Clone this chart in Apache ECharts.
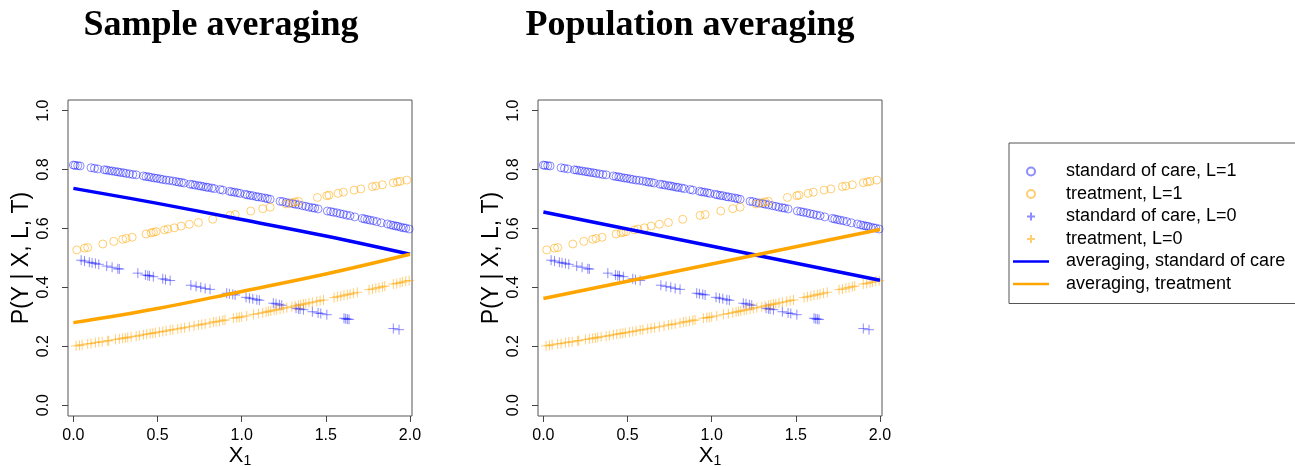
<!DOCTYPE html>
<html>
<head>
<meta charset="utf-8">
<script src="https://cdn.jsdelivr.net/npm/echarts@6/dist/echarts.min.js"></script>
<style>
  html, body { margin: 0; padding: 0; background: #ffffff; }
  #chart { width: 1295px; height: 466px; }
</style>
</head>
<body>
<div id="chart"></div>
<script>
// Panel titles and axis ticks
const panelTitles = ['Sample averaging', 'Population averaging'];
const xTicks = [0, 0.5, 1, 1.5, 2];
const yTicks = [0, 0.2, 0.4, 0.6, 0.8, 1.0];

// Individual predictions: standard of care, L=1
const socL1X = [0.0, 0.01, 0.026, 0.04, 0.105, 0.125, 0.145, 0.184, 0.198, 0.214, 0.23, 0.248, 0.264, 0.279, 0.297, 0.313, 0.333, 0.353, 0.373, 0.416, 0.432, 0.448, 0.463, 0.481, 0.497, 0.515, 0.531, 0.551, 0.57, 0.591, 0.61, 0.626, 0.642, 0.658, 0.693, 0.709, 0.723, 0.743, 0.757, 0.772, 0.789, 0.802, 0.822, 0.838, 0.872, 0.888, 0.927, 0.941, 0.957, 0.974, 0.99, 1.02, 1.034, 1.05, 1.066, 1.086, 1.099, 1.119, 1.139, 1.153, 1.169, 1.228, 1.244, 1.264, 1.283, 1.304, 1.319, 1.339, 1.361, 1.381, 1.4, 1.42, 1.434, 1.454, 1.509, 1.529, 1.545, 1.565, 1.585, 1.604, 1.624, 1.644, 1.672, 1.717, 1.731, 1.747, 1.763, 1.782, 1.803, 1.83, 1.866, 1.886, 1.901, 1.916, 1.929, 1.945, 1.961, 1.975, 1.995];
const socL1Y = [0.815, 0.814, 0.813, 0.812, 0.806, 0.804, 0.802, 0.799, 0.798, 0.796, 0.795, 0.793, 0.792, 0.790, 0.789, 0.787, 0.785, 0.783, 0.782, 0.778, 0.776, 0.775, 0.773, 0.771, 0.770, 0.768, 0.766, 0.764, 0.763, 0.761, 0.759, 0.757, 0.756, 0.754, 0.750, 0.749, 0.747, 0.745, 0.744, 0.742, 0.740, 0.739, 0.737, 0.735, 0.732, 0.730, 0.726, 0.724, 0.723, 0.721, 0.719, 0.716, 0.714, 0.712, 0.711, 0.708, 0.707, 0.705, 0.703, 0.701, 0.699, 0.692, 0.691, 0.688, 0.686, 0.684, 0.682, 0.680, 0.677, 0.675, 0.672, 0.670, 0.669, 0.666, 0.659, 0.657, 0.655, 0.653, 0.650, 0.648, 0.645, 0.643, 0.639, 0.634, 0.632, 0.630, 0.628, 0.626, 0.623, 0.619, 0.615, 0.612, 0.610, 0.608, 0.607, 0.604, 0.602, 0.601, 0.598];

// Individual predictions: treatment, L=1
const trtL1X = [0.02, 0.066, 0.085, 0.175, 0.24, 0.293, 0.313, 0.349, 0.432, 0.462, 0.476, 0.491, 0.541, 0.561, 0.6, 0.64, 0.689, 0.743, 0.828, 0.931, 0.961, 1.054, 1.125, 1.169, 1.264, 1.298, 1.317, 1.337, 1.45, 1.506, 1.519, 1.573, 1.604, 1.668, 1.708, 1.777, 1.797, 1.836, 1.901, 1.925, 1.941, 1.981];
const trtL1Y = [0.527, 0.533, 0.535, 0.547, 0.556, 0.563, 0.566, 0.570, 0.581, 0.585, 0.587, 0.589, 0.595, 0.598, 0.602, 0.608, 0.614, 0.620, 0.631, 0.644, 0.647, 0.659, 0.667, 0.672, 0.683, 0.687, 0.690, 0.692, 0.705, 0.711, 0.713, 0.719, 0.723, 0.730, 0.734, 0.742, 0.744, 0.748, 0.755, 0.758, 0.760, 0.764];

// Individual predictions: standard of care, L=0
const socL0X = [0.046, 0.066, 0.095, 0.111, 0.131, 0.151, 0.198, 0.23, 0.264, 0.273, 0.383, 0.428, 0.442, 0.452, 0.475, 0.531, 0.547, 0.575, 0.698, 0.729, 0.757, 0.783, 0.812, 0.911, 0.927, 0.947, 0.961, 1.026, 1.046, 1.066, 1.09, 1.105, 1.188, 1.204, 1.224, 1.238, 1.323, 1.337, 1.347, 1.367, 1.42, 1.454, 1.47, 1.506, 1.608, 1.618, 1.628, 1.638, 1.901, 1.935];
const socL0Y = [0.492, 0.489, 0.485, 0.483, 0.481, 0.478, 0.472, 0.468, 0.463, 0.462, 0.448, 0.442, 0.440, 0.439, 0.436, 0.429, 0.426, 0.423, 0.407, 0.403, 0.400, 0.396, 0.393, 0.380, 0.378, 0.376, 0.374, 0.366, 0.363, 0.361, 0.358, 0.356, 0.346, 0.344, 0.341, 0.339, 0.329, 0.327, 0.326, 0.324, 0.317, 0.313, 0.311, 0.307, 0.295, 0.293, 0.292, 0.291, 0.260, 0.256];

// Individual predictions: treatment, L=0
const trtL0X = [0.016, 0.036, 0.052, 0.085, 0.105, 0.131, 0.151, 0.171, 0.204, 0.21, 0.25, 0.273, 0.293, 0.309, 0.323, 0.343, 0.373, 0.392, 0.416, 0.436, 0.456, 0.472, 0.487, 0.511, 0.531, 0.551, 0.575, 0.591, 0.62, 0.64, 0.66, 0.689, 0.717, 0.743, 0.763, 0.783, 0.812, 0.832, 0.848, 0.868, 0.888, 0.901, 0.951, 0.971, 0.986, 1.0, 1.03, 1.07, 1.099, 1.125, 1.145, 1.159, 1.173, 1.193, 1.208, 1.228, 1.248, 1.268, 1.298, 1.317, 1.337, 1.351, 1.367, 1.381, 1.4, 1.42, 1.446, 1.466, 1.486, 1.549, 1.569, 1.589, 1.608, 1.628, 1.644, 1.664, 1.687, 1.757, 1.777, 1.797, 1.816, 1.836, 1.85, 1.901, 1.921, 1.941, 1.955, 1.975, 1.995];
const trtL0Y = [0.201, 0.203, 0.205, 0.208, 0.209, 0.212, 0.214, 0.215, 0.218, 0.219, 0.223, 0.225, 0.227, 0.228, 0.230, 0.232, 0.234, 0.236, 0.239, 0.241, 0.243, 0.244, 0.246, 0.248, 0.250, 0.252, 0.255, 0.256, 0.259, 0.261, 0.263, 0.266, 0.269, 0.272, 0.274, 0.276, 0.279, 0.282, 0.283, 0.285, 0.288, 0.289, 0.295, 0.297, 0.298, 0.300, 0.303, 0.308, 0.311, 0.314, 0.316, 0.318, 0.320, 0.322, 0.324, 0.326, 0.329, 0.331, 0.334, 0.337, 0.339, 0.341, 0.343, 0.344, 0.347, 0.349, 0.352, 0.355, 0.357, 0.365, 0.368, 0.370, 0.373, 0.375, 0.377, 0.380, 0.383, 0.392, 0.394, 0.397, 0.399, 0.402, 0.404, 0.411, 0.413, 0.416, 0.418, 0.421, 0.423];

// Averaged curves
const sampleAvgX = [0, 0.5, 1, 1.5, 2];
const sampleAvgSoc = [0.736, 0.685, 0.630, 0.574, 0.512];
const sampleAvgTrt = [0.280, 0.328, 0.386, 0.445, 0.512];
const popAvgX = [0, 2];
const popAvgSoc = [0.656, 0.424];
const popAvgTrt = [0.362, 0.596];

const seriesNames = [
  'standard of care, L=1',
  'treatment, L=1',
  'standard of care, L=0',
  'treatment, L=0',
  'averaging, standard of care',
  'averaging, treatment'
];

const BLUE = '#0000ff';
const ORANGE = '#ffa500';
const BLUE_PT = 'rgba(0,0,255,0.45)';
const ORANGE_PT = 'rgba(255,165,0,0.55)';
const PLUS = 'path://M0,5L10,5M5,0L5,10';
const LEGEND_LINE = 'path://M0,0L36,0L36,2.6L0,2.6Z';
const FONT = 'Liberation Sans, Arial, sans-serif';

const pairs = (xs, ys) => xs.map((x, i) => [x, ys[i]]);

function scatter(name, xs, ys, color, symbol, size, idx) {
  return {
    type: 'scatter', name, xAxisIndex: idx, yAxisIndex: idx,
    data: pairs(xs, ys),
    symbol, symbolSize: size, symbolKeepAspect: true,
    itemStyle: { color: 'rgba(0,0,0,0)', borderColor: color, borderWidth: 1, opacity: 1 },
    emphasis: { disabled: true }, silent: true, z: 2
  };
}
function curve(name, xs, ys, color, idx, smooth) {
  return {
    type: 'line', name, xAxisIndex: idx, yAxisIndex: idx,
    data: pairs(xs, ys), smooth: smooth ? 0.4 : false,
    symbol: 'none', showSymbol: false,
    lineStyle: { color, width: 3.5 }, itemStyle: { color },
    emphasis: { disabled: true }, silent: true, z: 3
  };
}

const gridLefts = [68, 538];
const series = [];
const curves = [
  [sampleAvgX, sampleAvgSoc, sampleAvgTrt, true],
  [popAvgX, popAvgSoc, popAvgTrt, false]
];
[0, 1].forEach(i => {
  series.push(scatter(seriesNames[0], socL1X, socL1Y, BLUE_PT, 'circle', 8, i));
  series.push(scatter(seriesNames[1], trtL1X, trtL1Y, ORANGE_PT, 'circle', 8, i));
  series.push(scatter(seriesNames[2], socL0X, socL0Y, BLUE_PT, PLUS, 10, i));
  series.push(scatter(seriesNames[3], trtL0X, trtL0Y, ORANGE_PT, PLUS, 10, i));
  const c = curves[i];
  series.push(curve(seriesNames[4], c[0], c[1], BLUE, i, c[3]));
  series.push(curve(seriesNames[5], c[0], c[2], ORANGE, i, c[3]));
});

const xAxes = [0, 1].map(i => ({
  type: 'value', gridIndex: i, min: -0.032, max: 2.012,
  splitLine: { show: false },
  axisLine: { show: false, onZero: false },
  axisTick: { show: true, customValues: xTicks, length: 6, lineStyle: { color: '#444' } },
  axisLabel: { customValues: xTicks, formatter: v => v.toFixed(1), color: '#000', fontFamily: FONT, fontSize: 16, margin: 12 },
  name: '{x|X}{s|1}', nameLocation: 'middle', nameGap: 28, nameMoveOverlap: false,
  nameTextStyle: {
    rich: {
      x: { fontFamily: FONT, fontSize: 22, color: '#000' },
      s: { fontFamily: FONT, fontSize: 14, color: '#000', padding: [10, 0, 0, 0] }
    }
  }
}));
const yAxes = [0, 1].map(i => ({
  type: 'value', gridIndex: i, min: -0.037, max: 1.036,
  splitLine: { show: false },
  axisLine: { show: false, onZero: false },
  axisTick: { show: true, customValues: yTicks, length: 6, lineStyle: { color: '#444' } },
  axisLabel: { customValues: yTicks, formatter: v => v.toFixed(1), color: '#000', fontFamily: FONT, fontSize: 16, rotate: 90, margin: 16 },
  name: 'P(Y | X, L, T)', nameLocation: 'middle', nameRotate: 90, nameGap: 35, nameMoveOverlap: false,
  nameTextStyle: { fontFamily: FONT, fontSize: 23, color: '#000' }
}));

const legendData = seriesNames.map((n, i) => (i < 4 ? { name: n } : { name: n, icon: LEGEND_LINE }));

const chart = echarts.init(document.getElementById('chart'), null, { renderer: 'canvas' });
chart.setOption({
  animation: false,
  backgroundColor: '#ffffff',
  title: [
    { text: panelTitles[0], left: 216, top: 3, textAlign: 'center',
      textStyle: { fontFamily: 'Liberation Serif, serif', fontWeight: 'bold', fontSize: 36, color: '#000' } },
    { text: panelTitles[1], left: 685, top: 3, textAlign: 'center',
      textStyle: { fontFamily: 'Liberation Serif, serif', fontWeight: 'bold', fontSize: 36, color: '#000' } }
  ],
  grid: gridLefts.map(l => ({
    left: l, top: 100, width: 344, height: 316,
    outerBoundsMode: 'none', containLabel: false,
    show: true, borderColor: '#555', borderWidth: 1, backgroundColor: 'transparent'
  })),
  xAxis: xAxes,
  yAxis: yAxes,
  legend: {
    orient: 'vertical', left: 1009, top: 143,
    padding: [19.5, 24, 10.5, 4],
    borderColor: '#555', borderWidth: 1,
    itemWidth: 36, itemHeight: 8, itemGap: 4.5,
    selectedMode: false,
    textStyle: { fontFamily: FONT, fontSize: 18, lineHeight: 18, color: '#000', padding: [0, 0, 0, 12] },
    data: legendData
  },
  series
});
</script>
</body>
</html>
